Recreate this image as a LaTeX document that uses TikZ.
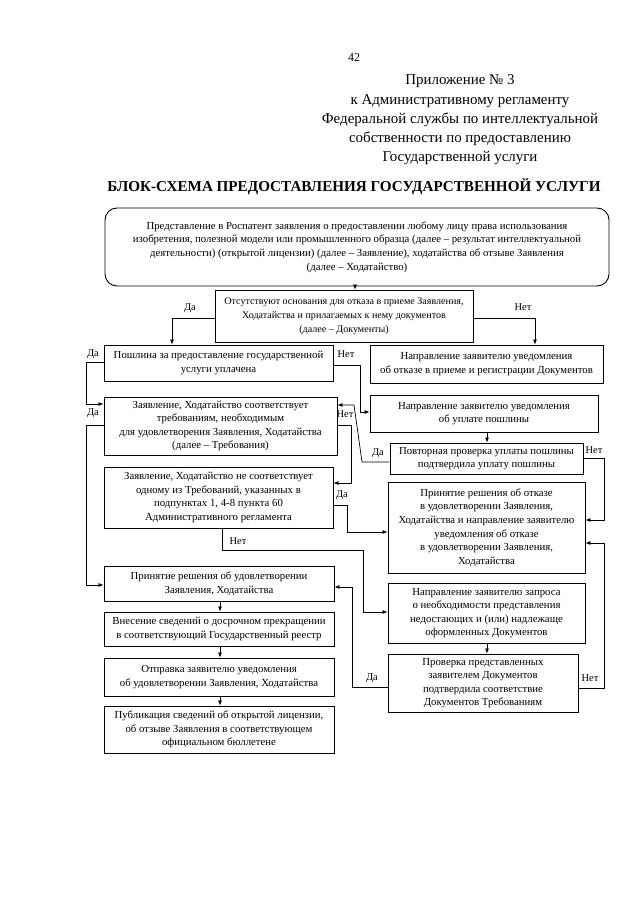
\documentclass[tikz,border=0pt]{standalone}
\usepackage{fontspec}
\setmainfont{Liberation Serif}
\usetikzlibrary{arrows.meta}
\begin{document}
\begin{tikzpicture}[x=1bp,y=-1bp,
  box/.style={draw, line width=0.9bp, align=center, inner sep=1bp, font=\fontsize{10.8}{13.6}\selectfont},
  arr/.style={line width=0.7bp, -{Latex[length=5bp,width=4bp]}},
  lab/.style={font=\fontsize{10.5}{12}\selectfont, inner sep=0pt},
  hdr/.style={align=center, font=\fontsize{15}{19.3}\selectfont}]
\useasboundingbox[fill=white] (0,0) rectangle (640,905);

% header
\node[font=\fontsize{12}{14}\selectfont] (pg) at (354,58) {42};
\node[hdr] (hd) at (460,120) {Приложение № 3\\к Административному регламенту\\Федеральной службы по интеллектуальной\\собственности по предоставлению\\Государственной услуги};
\node[font=\bfseries\fontsize{15.2}{18}\selectfont] (title) at (354,187) {БЛОК-СХЕМА ПРЕДОСТАВЛЕНИЯ ГОСУДАРСТВЕННОЙ УСЛУГИ};

% boxes
\node[box, rounded corners=12bp, minimum width=504bp, minimum height=78bp] (top) at (357,247) {Представление в Роспатент заявления о предоставлении любому лицу права использования\\изобретения, полезной модели или промышленного образца (далее -- результат интеллектуальной\\деятельности) (открытой лицензии) (далее -- Заявление), ходатайства об отзыве Заявления\\(далее -- Ходатайство)};
\node[box, font=\fontsize{10.1}{13.8}\selectfont, minimum width=258bp, minimum height=52bp] (dec) at (344,316) {Отсутствуют основания для отказа в приеме Заявления,\\Ходатайства и прилагаемых к нему документов\\(далее -- Документы)};
\node[box, minimum width=229bp, minimum height=36bp] (p) at (218.5,363) {Пошлина за предоставление государственной\\услуги уплачена};
\node[box, minimum width=233bp, minimum height=38bp] (r1) at (486.5,364) {Направление заявителю уведомления\\об отказе в приеме и регистрации Документов};
\node[box, minimum width=233bp, minimum height=58bp] (zs) at (220.5,426) {Заявление, Ходатайство соответствует\\требованиям, необходимым\\для удовлетворения Заявления, Ходатайства\\(далее -- Требования)};
\node[box, minimum width=228bp, minimum height=37bp] (r2) at (484,413.5) {Направление заявителю уведомления\\об уплате пошлины};
\node[box, minimum width=193bp, minimum height=31bp] (r3) at (486.5,458.5) {Повторная проверка уплаты пошлины\\подтвердила уплату пошлины};
\node[box, minimum width=229bp, minimum height=61bp] (zn) at (218.5,497.5) {Заявление, Ходатайство не соответствует\\одному из Требований, указанных в\\подпунктах 1, 4-8 пункта 60\\Административного регламента};
\node[box, minimum width=197bp, minimum height=91bp] (r4) at (486.5,527.5) {Принятие решения об отказе\\в удовлетворении Заявления,\\Ходатайства и направление заявителю\\уведомления об отказе\\в удовлетворении Заявления,\\Ходатайства};
\node[box, minimum width=230bp, minimum height=35bp] (pu) at (219,583.5) {Принятие решения об удовлетворении\\Заявления, Ходатайства};
\node[box, minimum width=197bp, minimum height=60bp] (r5) at (486.5,613) {Направление заявителю запроса\\о необходимости представления\\недостающих и (или) надлежаще\\оформленных Документов};
\node[box, minimum width=230bp, minimum height=34bp] (vn) at (219,629) {Внесение сведений о досрочном прекращении\\в соответствующий Государственный реестр};
\node[box, minimum width=190bp, minimum height=58bp] (r6) at (483,683) {Проверка представленных\\заявителем Документов\\подтвердила соответствие\\Документов Требованиям};
\node[box, minimum width=230bp, minimum height=38bp] (ot) at (219,677) {Отправка заявителю уведомления\\об удовлетворении Заявления, Ходатайства};
\node[box, minimum width=230bp, minimum height=47bp] (pb) at (219,729.5) {Публикация сведений об открытой лицензии,\\об отзыве Заявления в соответствующем\\официальном бюллетене};

% connectors
\draw[arr] (top.south -| 355,0) -- (dec.north -| 355,0);
\draw[arr] (dec.west |- 0,318) -- (172,318) -- (p.north -| 172,0);
\draw[arr] (dec.east |- 0,318) -- (535,318) -- (r1.north -| 535,0);
\draw[arr] (p.west |- 0,362) -- (86,362) -- (86,404) -- (zs.west |- 0,404);
\draw[arr] (p.east |- 0,365) -- (360,365) -- (360,412) -- (r2.west |- 0,412);
\draw[arr] (r2.south -| 487,0) -- (r3.north -| 487,0);
\draw[arr] (r3.west |- 0,462) -- (362,462) -- (354,405) -- (zs.east |- 0,405);
\draw[arr] (r3.east |- 0,458) -- (604,458) -- (604,520) -- (r4.east |- 0,520);
\draw[arr] (zs.west |- 0,425) -- (86,425) -- (86,585) -- (pu.west |- 0,585);
\draw[arr] (zs.east |- 0,425) -- (351,425) -- (351,483) -- (zn.east |- 0,483);
\draw[arr] (zn.east |- 0,505) -- (347,505) -- (347,532) -- (r4.west |- 0,532);
\draw[arr] (zn.south -| 222,0) -- (222,550) -- (363,550) -- (363,612) -- (r5.west |- 0,612);
\draw[arr] (r5.south -| 487,0) -- (r6.north -| 487,0);
\draw[arr] (r6.west |- 0,687) -- (352,687) -- (352,587) -- (pu.east |- 0,587);
\draw[arr] (r6.east |- 0,688) -- (604,688) -- (604,543) -- (r4.east |- 0,543);
\draw[arr] (pu.south -| 220,0) -- (vn.north -| 220,0);
\draw[arr] (vn.south -| 220,0) -- (ot.north -| 220,0);
\draw[arr] (ot.south -| 220,0) -- (pb.north -| 220,0);

% labels
\node[lab] (l1) at (190,308) {Да};
\node[lab] (l2) at (523,307) {Нет};
\node[lab] (l3) at (93,354) {Да};
\node[lab] (l4) at (346,354) {Нет};
\node[lab] (l5) at (93,413) {Да};
\node[lab] (l6) at (345,414) {Нет};
\node[lab] (l7) at (378,453) {Да};
\node[lab] (l8) at (594,450) {Нет};
\node[lab] (l9) at (342,495) {Да};
\node[lab] (l10) at (238,541) {Нет};
\node[lab] (l11) at (372,678) {Да};
\node[lab] (l12) at (590,678) {Нет};
\end{tikzpicture}
\end{document}
